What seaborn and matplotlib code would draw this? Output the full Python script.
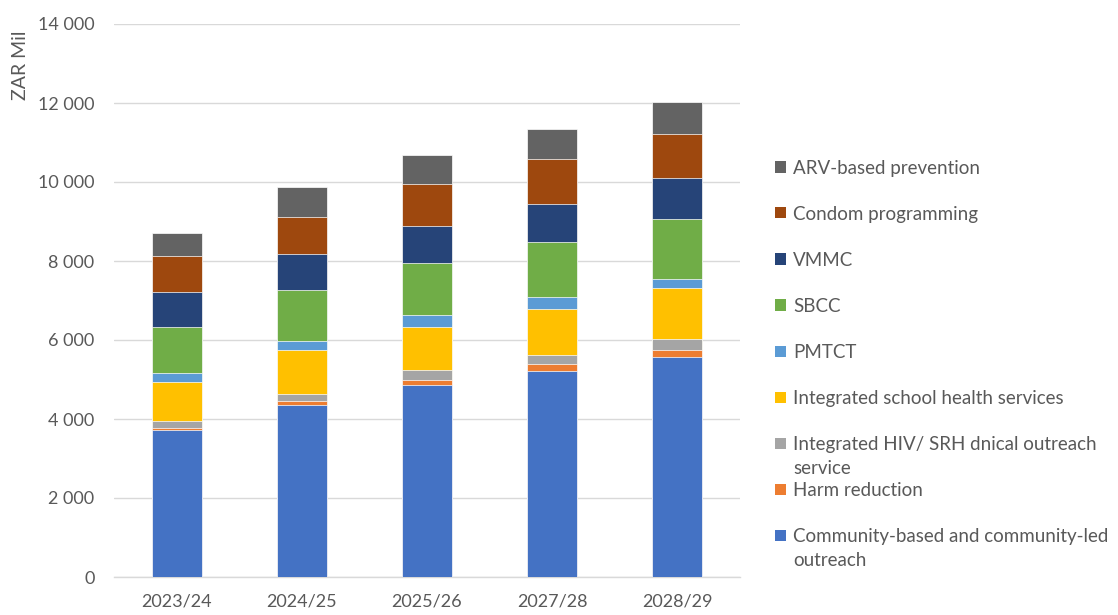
import numpy as np
import pandas as pd
import matplotlib
matplotlib.use("Agg")
import matplotlib.pyplot as plt
import seaborn as sns
from matplotlib.patches import Rectangle
from matplotlib.ticker import FuncFormatter

years = ["2023/24", "2024/25", "2025/26", "2027/28", "2028/29"]

series_names = [
    "Community-based and community-led\noutreach",
    "Harm reduction",
    "Integrated HIV/ SRH dnical outreach\nservice",
    "Integrated school health services",
    "PMTCT",
    "SBCC",
    "VMMC",
    "Condom programming",
    "ARV-based prevention",
]

community = [3714, 4347, 4868, 5223, 5570]
harm = [66, 116, 127, 177, 177]
hiv_srh = [162, 178, 238, 228, 286]
school = [995, 1106, 1096, 1157, 1283]
pmtct = [220, 235, 296, 296, 236]
sbcc = [1172, 1276, 1324, 1400, 1511]
vmmc = [879, 927, 929, 970, 1046]
condom = [926, 937, 1064, 1131, 1106]
arv = [567, 759, 742, 752, 810]

colors = ["#4472C4", "#ED7D31", "#A5A5A5", "#FFC000", "#5B9BD5",
          "#70AD47", "#264478", "#9E480E", "#636363"]

values = [community, harm, hiv_srh, school, pmtct, sbcc, vmmc, condom, arv]
df = pd.DataFrame({name: v for name, v in zip(series_names, values)}, index=years)
cum = df.cumsum(axis=1)

sns.set_theme(style="white")
plt.rcParams["font.family"] = ["Lato", "DejaVu Sans"]
text_color = "#595959"

W, H = 1118, 615
fig = plt.figure(figsize=(W / 100, H / 100), dpi=100)
ax = fig.add_axes([114 / W, 1 - 577 / H, 626 / W, 553 / H])

for name, col in reversed(list(zip(series_names, colors))):
    sns.barplot(x=years, y=cum[name].values, color=col, width=0.4,
                order=years, ax=ax, saturation=1, edgecolor="white",
                linewidth=0.5, zorder=3)

ax.set_ylim(0, 14000)
ax.set_xlim(-0.5, 4.5)
ax.set_yticks(np.arange(0, 14001, 2000))
ax.yaxis.set_major_formatter(FuncFormatter(lambda v, p: f"{v:,.0f}".replace(",", " ")))
ax.grid(axis="y", color="#D9D9D9", linewidth=1, zorder=0)
ax.grid(axis="x", visible=False)
for s in ["top", "right", "left"]:
    ax.spines[s].set_visible(False)
ax.spines["bottom"].set_color("#D9D9D9")
ax.spines["bottom"].set_linewidth(1)
ax.tick_params(axis="both", length=0, labelsize=13, colors=text_color)
ax.tick_params(axis="y", pad=14)
ax.tick_params(axis="x", pad=12)
ax.set_xlabel("")
ax.set_ylabel("ZAR Mil", fontsize=14, color=text_color)
ax.yaxis.label.set_verticalalignment("center")
ax.yaxis.label.set_horizontalalignment("center")
ax.yaxis.set_label_coords(-0.150, 0.926)

# legend (Excel style: marker aligned with the first line of each label)
legend_names = series_names[::-1]
legend_colors = colors[::-1]
for i, (name, col) in enumerate(zip(legend_names, legend_colors)):
    yc = 167 + 46 * i
    fig.patches.append(Rectangle((775 / W, 1 - (yc + 5.5) / H), 11 / W, 11 / H,
                                 transform=fig.transFigure, facecolor=col,
                                 edgecolor="none"))
    fig.text(793 / W, 1 - (yc - 7) / H, name, fontsize=13.5, color=text_color,
             va="top", ha="left", linespacing=1.5)

fig.savefig("out.png", dpi=100)
